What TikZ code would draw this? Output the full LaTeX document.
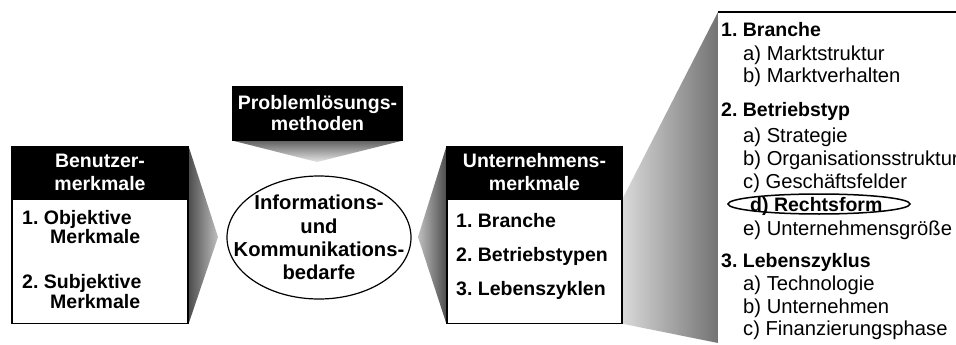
\documentclass[tikz,border=0pt]{standalone}
\usepackage{fontspec}
\setmainfont{Liberation Sans}
\usetikzlibrary{positioning,shapes.geometric,backgrounds}

\begin{document}
\frenchspacing
\begin{tikzpicture}[
  x=1pt, y=-1pt,
  font=\fontsize{19.5}{23}\selectfont,
  hdr/.style={fill=black, draw=black, line width=1.2pt, text=white, align=center, inner sep=0pt,
    font=\fontsize{19.5}{23}\selectfont\bfseries, minimum width=176pt, minimum height=51pt},
  body/.style={fill=white, draw=black, line width=1.2pt, inner sep=0pt, minimum width=176pt, minimum height=124pt},
  item/.style={anchor=base west, inner sep=0pt, font=\fontsize{19.5}{23}\selectfont\bfseries},
  sub/.style={anchor=base west, inner sep=0pt, font=\fontsize{20.2}{23}\selectfont},
  oval/.style={draw=black, ellipse, line width=1.2pt, inner sep=0pt}
]
\useasboundingbox (0,0) rectangle (956,345);
\clip (0,0) rectangle (956,345);

% Benutzermerkmale
\node[hdr] (benh) at (100,172.5) {Benutzer-\\merkmale};
\node[body, below=0pt of benh] (benb) {};
\node[item] (ob1) at (22,224) {1. Objektive};
\node[item] (ob2) at (50,243) {Merkmale};
\node[item] (sb1) at (22,288) {2. Subjektive};
\node[item] (sb2) at (50,308) {Merkmale};

% Problemloesungsmethoden
\node[hdr, minimum width=169pt, minimum height=53pt, font=\fontsize{19.5}{21}\selectfont\bfseries] (prob) at (317.5,113.5)
  {Problemlösungs-\\methoden};

% Bedarfe
\node[oval, fill=white, minimum width=184pt, minimum height=123pt] (ikb) at (319,237.5) {};
\node[align=center, inner sep=0pt, font=\fontsize{20.2}{23.3}\selectfont\bfseries] (ikbt) at (ikb.center)
  {Informations-\\und\\Kommunikations-\\bedarfe};

% Unternehmensmerkmale
\node[hdr, minimum width=175pt] (unth) at (534.5,172.5) {Unternehmens-\\merkmale};
\node[body, minimum width=175pt, below=0pt of unth] (untb) {};
\node[item] (u1) at (456,227) {1. Branche};
\node[item] (u2) at (456,261) {2. Betriebstypen};
\node[item] (u3) at (456,295) {3. Lebenszyklen};

% Detailliste
\node[fill=white, anchor=north west, minimum width=240pt, minimum height=345pt, inner sep=0pt] (lst) at (718,12) {};
\draw[line width=1.2pt] (lst.north west) -- (lst.north east);
\node[item] (l1) at (721,37) {1. Branche};
\node[sub] (l1a) at (743,60) {a) Marktstruktur};
\node[sub] (l1b) at (743,83) {b) Marktverhalten};
\node[item] (l2) at (721,117) {2. Betriebstyp};
\node[sub] (l2a) at (743,142) {a) Strategie};
\node[sub] (l2b) at (743,165) {b) Organisationsstruktur};
\node[sub] (l2c) at (743,188) {c) Geschäftsfelder};
\node[item] (l2d) at (750,211) {d) Rechtsform};
\node[sub] (l2e) at (743,235) {e) Unternehmensgröße};
\node[item] (l3) at (721,267) {3. Lebenszyklus};
\node[sub] (l3a) at (743,290) {a) Technologie};
\node[sub] (l3b) at (743,313) {b) Unternehmen};
\node[sub] (l3c) at (743,335) {c) Finanzierungsphase};
\node[oval, line width=1.5pt, minimum width=182pt, minimum height=20pt] (rf) at (819,204) {};

% Keile
\coordinate (tl) at (218,237);
\coordinate (tp) at (317,162);
\coordinate (tr) at (418,237);
\coordinate (lb) at (718,343);
\begin{scope}[on background layer]
\shade[left color=black!70, right color=black!25] (benh.north east) -- (tl) -- (benb.south east) -- cycle;
\shade[top color=black!62, bottom color=black!10] (prob.south west) -- (tp) -- (prob.south east) -- cycle;
\shade[left color=black!25, right color=black!70] (unth.north west) -- (tr) -- (untb.south west) -- cycle;
\shade[left color=black!15, right color=black!55] (untb.north east) -- (lst.north west) -- (lb) -- (untb.south east) -- cycle;
\end{scope}

\end{tikzpicture}
\end{document}
